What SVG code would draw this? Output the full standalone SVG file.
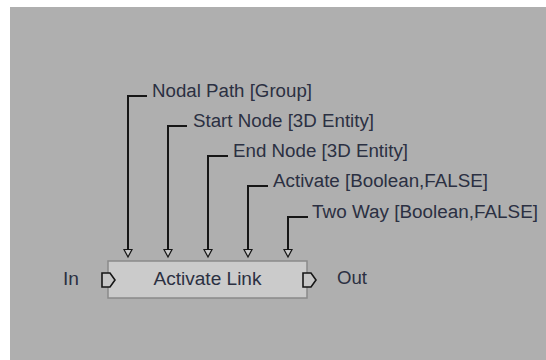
<svg xmlns="http://www.w3.org/2000/svg" width="546" height="360" viewBox="0 0 546 360">
  <defs>
    <style>
      .lbl { font-family: "Liberation Sans", Arial, sans-serif; font-size: 18px; fill: #2b3042; }
      .wire { fill: none; stroke: #161616; stroke-width: 2; }
      .tri { fill: #c6c6c6; stroke: #161616; stroke-width: 1.2; }
      .pin { fill: #c6c6c6; stroke: #161616; stroke-width: 1.6; stroke-linejoin: miter; }
    </style>
  </defs>

  <!-- canvas -->
  <rect x="0" y="0" width="546" height="360" fill="#ffffff"/>
  <rect x="10" y="7" width="536" height="353" fill="#afafaf"/>

  <!-- parameter connectors -->
  <g id="connectors">
    <path class="wire" d="M128,249 V96 H147"/>
    <path class="wire" d="M168,249 V126 H187"/>
    <path class="wire" d="M208,249 V156 H228"/>
    <path class="wire" d="M248,249 V186 H268"/>
    <path class="wire" d="M288,249 V217 H308"/>
  </g>

  <!-- parameter labels -->
  <g id="param-nodal-path">
    <text class="lbl" x="152" y="97" textLength="160" lengthAdjust="spacingAndGlyphs">Nodal Path [Group]</text>
    <polygon class="tri" points="124,249.5 132,249.5 128,257"/>
  </g>
  <g id="param-start-node">
    <text class="lbl" x="193" y="127" textLength="181" lengthAdjust="spacingAndGlyphs">Start Node [3D Entity]</text>
    <polygon class="tri" points="164,249.5 172,249.5 168,257"/>
  </g>
  <g id="param-end-node">
    <text class="lbl" x="233" y="157" textLength="175" lengthAdjust="spacingAndGlyphs">End Node [3D Entity]</text>
    <polygon class="tri" points="204,249.5 212,249.5 208,257"/>
  </g>
  <g id="param-activate">
    <text class="lbl" x="273" y="187" textLength="215" lengthAdjust="spacingAndGlyphs">Activate [Boolean,FALSE]</text>
    <polygon class="tri" points="244,249.5 252,249.5 248,257"/>
  </g>
  <g id="param-two-way">
    <text class="lbl" x="312" y="218" textLength="226" lengthAdjust="spacingAndGlyphs">Two Way [Boolean,FALSE]</text>
    <polygon class="tri" points="284,249.5 292,249.5 288,257"/>
  </g>

  <!-- main block -->
  <g id="activate-link">
    <rect x="108" y="261" width="199" height="37" fill="#cbcbcb" stroke="#8a8a8a" stroke-width="1.5"/>
    <text class="lbl" x="207.5" y="285" text-anchor="middle" textLength="108" lengthAdjust="spacingAndGlyphs">Activate Link</text>
  </g>

  <!-- flow ports -->
  <g id="port-in">
    <polygon class="pin" points="102,273 110,273 115,280 110,287 102,287"/>
    <text class="lbl" x="63" y="285" textLength="16" lengthAdjust="spacingAndGlyphs">In</text>
  </g>
  <g id="port-out">
    <polygon class="pin" points="303,273 311,273 316,280 311,287 303,287"/>
    <text class="lbl" x="337" y="284" textLength="30" lengthAdjust="spacingAndGlyphs">Out</text>
  </g>
</svg>
